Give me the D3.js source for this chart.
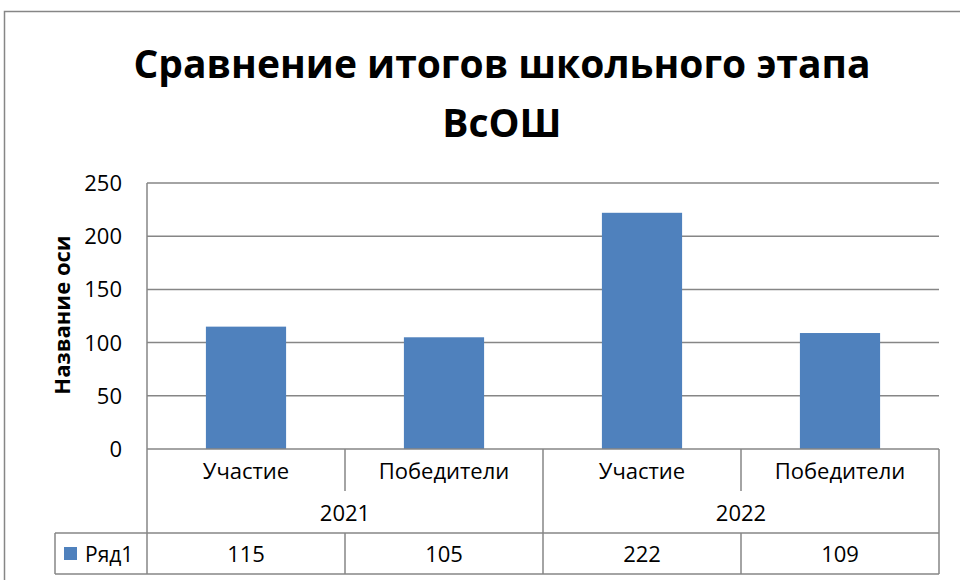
<!DOCTYPE html>
<html lang="ru">
<head>
<meta charset="utf-8">
<title>Сравнение итогов школьного этапа ВсОШ</title>
<script src="https://d3js.org/d3.v7.min.js"></script>
<style>
body { margin: 0; background: #fff; }
text { font-family: "Open Sans", "Noto Sans", sans-serif; fill: #000; }
.grid line { stroke: #868686; stroke-width: 1.5px; }
.tbl line { stroke: #868686; stroke-width: 1.5px; }
</style>
</head>
<body>
<svg width="960" height="580"></svg>
<script>
// data
var titleLines = ["Сравнение итогов школьного этапа", "ВсОШ"];
var categories = ["Участие", "Победители", "Участие", "Победители"];
var years = ["2021", "2022"];
var values = [115, 105, 222, 109];
var seriesName = "Ряд1";
var yTicks = [0, 50, 100, 150, 200, 250];
var axisTitle = "Название оси";

var svg = d3.select("svg");
var plotLeft = 147, plotRight = 939, plotTop = 183, plotBottom = 449;
var rowCat = 491, rowYear = 533, rowEnd = 574, legendLeft = 55;

// outer frame
svg.append("rect")
  .attr("x", 4.5).attr("y", 11.5)
  .attr("width", 980).attr("height", 600)
  .attr("fill", "none").attr("stroke", "#868686").attr("stroke-width", 1.5);

// title
svg.selectAll(".title")
  .data(titleLines)
  .enter().append("text")
  .attr("class", "title")
  .attr("x", 502)
  .attr("y", function(d, i) { return 78 + i * 59; })
  .attr("text-anchor", "middle")
  .attr("font-size", 39)
  .attr("font-weight", "bold")
  .text(function(d) { return d; });

var y = d3.scaleLinear().domain([0, 250]).range([plotBottom, plotTop]);
var idx = d3.range(categories.length);
var col = d3.scaleBand().domain(idx).range([plotLeft, plotRight]);
var bar = d3.scaleBand().domain(idx).range([plotLeft, plotRight]).paddingInner(0.595).paddingOuter(0.2975);

// gridlines
var grid = svg.append("g").attr("class", "grid");
grid.selectAll("line")
  .data(yTicks.filter(function(d) { return d > 0; }))
  .enter().append("line")
  .attr("x1", plotLeft).attr("x2", plotRight)
  .attr("y1", function(d) { return y(d); })
  .attr("y2", function(d) { return y(d); });

// y axis labels
svg.append("g")
  .selectAll("text")
  .data(yTicks)
  .enter().append("text")
  .attr("x", 122)
  .attr("y", function(d) { return y(d) + 8; })
  .attr("text-anchor", "end")
  .attr("font-size", 22)
  .text(function(d) { return d; });

svg.append("text")
  .attr("transform", "translate(70,315) rotate(-90)")
  .attr("text-anchor", "middle")
  .attr("font-size", 22)
  .attr("font-weight", "bold")
  .text(axisTitle);

// bars
svg.append("g")
  .selectAll("rect")
  .data(values)
  .enter().append("rect")
  .attr("x", function(d, i) { return bar(i); })
  .attr("width", bar.bandwidth())
  .attr("y", function(d) { return y(d); })
  .attr("height", function(d) { return y(0) - y(d); })
  .attr("fill", "#4F81BD");

// data table
var tbl = svg.append("g").attr("class", "tbl");
var hlines = [
  [plotLeft, plotRight, plotBottom],
  [legendLeft, plotRight, rowYear],
  [legendLeft, plotRight, rowEnd]
];
tbl.selectAll(".h").data(hlines).enter().append("line")
  .attr("x1", function(d) { return d[0]; })
  .attr("x2", function(d) { return d[1]; })
  .attr("y1", function(d) { return d[2]; })
  .attr("y2", function(d) { return d[2]; });

var vlines = [[plotLeft, plotTop, rowEnd], [plotRight, plotBottom, rowEnd], [legendLeft, rowYear, rowEnd]];
idx.slice(1).forEach(function(i) {
  var x = col(i);
  if (i % 2 === 0) vlines.push([x, plotBottom, rowEnd]);
  else { vlines.push([x, plotBottom, rowCat]); vlines.push([x, rowYear, rowEnd]); }
});
tbl.selectAll(".v").data(vlines).enter().append("line")
  .attr("x1", function(d) { return d[0]; })
  .attr("x2", function(d) { return d[0]; })
  .attr("y1", function(d) { return d[1]; })
  .attr("y2", function(d) { return d[2]; });

// table texts
svg.append("g").selectAll("text")
  .data(categories).enter().append("text")
  .attr("x", function(d, i) { return col(i) + col.bandwidth() / 2; })
  .attr("y", 479)
  .attr("text-anchor", "middle")
  .attr("font-size", 22)
  .text(function(d) { return d; });

svg.append("g").selectAll("text")
  .data(years).enter().append("text")
  .attr("x", function(d, i) { return col(i * 2) + col.bandwidth(); })
  .attr("y", 521)
  .attr("text-anchor", "middle")
  .attr("font-size", 22)
  .text(function(d) { return d; });

svg.append("g").selectAll("text")
  .data(values).enter().append("text")
  .attr("x", function(d, i) { return col(i) + col.bandwidth() / 2; })
  .attr("y", 562)
  .attr("text-anchor", "middle")
  .attr("font-size", 22)
  .text(function(d) { return d; });

// legend key
svg.append("rect")
  .attr("x", 64).attr("y", 547).attr("width", 13).attr("height", 13)
  .attr("fill", "#4F81BD");
svg.append("text")
  .attr("x", 85).attr("y", 562)
  .attr("font-size", 21)
  .text(seriesName);
</script>
</body>
</html>
